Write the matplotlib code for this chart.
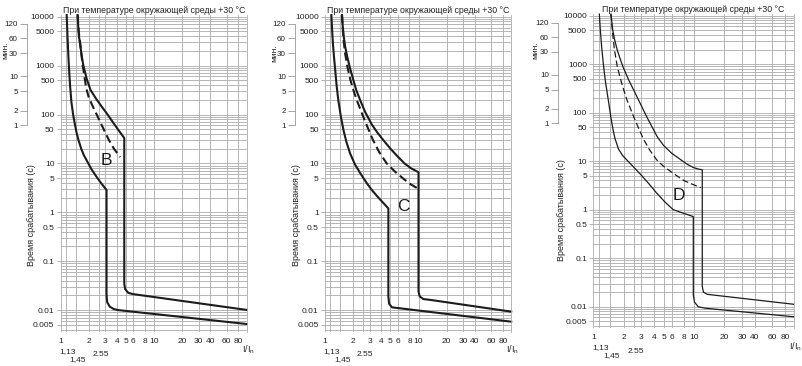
import matplotlib
matplotlib.use("Agg")
import matplotlib.pyplot as plt
from matplotlib.ticker import FixedLocator, NullFormatter, LogLocator

plt.rcParams["font.family"] = ["Liberation Sans", "DejaVu Sans"]

W, H = 802, 366
XMAX = 98.5
YLIM = (0.0036, 10800)

title = "При температуре окружающей среды +30 °C"
ylabel = "Время срабатывания (с)"
min_label = "мин."

x_grid = [1, 1.13, 1.45, 2, 2.55, 3, 4, 5, 6, 8, 10, 20, 30, 40, 60, 80]
x_labels = ["1", "", "", "2", "", "3", "4", "5", "6", "8", "10", "20", "30", "40", "60", "80"]
y_ticks = [0.005, 0.01, 0.1, 0.5, 1, 5, 10, 50, 100, 500, 1000, 5000, 10000]
y_labels = ["0.005", "0.01", "0.1", "0.5", "1", "5", "10", "50", "100", "500", "1000", "5000", "10000"]
min_ticks = [7200, 3600, 1800, 600, 300, 120, 60]
min_labels = ["120", "60", "30", "10", "5", "2", "1"]
extra_labels = [("1,13", 1.13, -14.2), ("1,45", 1.45, -19.7), ("2.55", 2.55, -16.5)]

# curve B
b_low_x = [1.159, 1.18, 1.208, 1.236, 1.259, 1.303, 1.358, 1.419, 1.479, 1.549, 1.66, 1.778,
           1.901, 2.138, 2.432, 2.754, 3.1, 3.1, 3.15, 3.35, 3.7, 4.14, 98]
b_low_t = [10800, 4467, 1585, 708, 398, 178, 100, 63.1, 42.7, 30.2, 19.95, 14.45,
           11.48, 7.59, 5.25, 3.8, 2.86, 0.021, 0.0145, 0.0118, 0.0105, 0.0100, 0.0052]
b_up_x = [1.52, 1.535, 1.567, 1.61, 1.68, 1.75, 1.905, 2.09, 2.4, 2.75, 3.11, 3.98, 4.8,
          4.8, 4.9, 5.3, 6.0, 98]
b_up_t = [10800, 7000, 4000, 2860, 1580, 1000, 525, 316, 209, 145, 106, 54, 33,
          0.035, 0.027, 0.0225, 0.0212, 0.0101]
b_dash_x = [1.52, 1.56, 1.63, 1.72, 1.79, 1.87, 2.0, 2.19, 2.43, 2.82, 3.24, 3.72, 4.33]
b_dash_t = [10800, 5000, 2500, 1000, 631, 355, 224, 151, 100, 55, 31.6, 20, 13.5]

# curve C
c_low_x = [1.17, 1.19, 1.216, 1.245, 1.28, 1.33, 1.387, 1.48, 1.585, 1.7, 1.86, 2.09, 2.4,
           2.79, 3.16, 3.57, 4.17, 4.76, 4.76, 4.85, 5.2, 6.3, 98]
c_low_t = [10800, 5620, 2820, 1585, 891, 398, 198, 89, 45.7, 26.9, 15.8, 9.55, 6.17,
           3.98, 2.88, 2.19, 1.58, 1.2, 0.019, 0.0135, 0.0114, 0.0109, 0.0058]
c_up_x = [1.52, 1.549, 1.585, 1.64, 1.72, 1.85, 2.0, 2.16, 2.37, 2.69, 3.16, 3.63, 4.2,
          5.01, 5.85, 7.08, 8.32, 10.0, 10.0, 10.3, 11.3, 13.3, 98]
c_up_t = [10800, 6310, 3980, 2510, 1585, 891, 525, 316, 200, 112, 63, 42.7, 30,
          20, 14.5, 10, 7.94, 6.6, 0.024, 0.019, 0.0168, 0.0162, 0.0093]
c_dash_x = [1.52, 1.549, 1.585, 1.64, 1.734, 1.862, 1.995, 2.18, 2.51, 2.88, 3.22, 3.8,
            4.57, 5.62, 6.87, 8.13, 9.77]
c_dash_t = [10800, 5620, 3160, 1780, 955, 525, 331, 200, 100, 52.5, 31.6, 17,
            10, 6.76, 4.9, 3.8, 3.09]

# curve D
d_low_x = [1.148, 1.175, 1.211, 1.259, 1.318, 1.409, 1.496, 1.567, 1.641, 1.778, 1.95,
           2.143, 2.512, 2.911, 3.548, 4.266, 5.129, 6.22, 9.84, 9.84, 10.1, 11.0, 12.9, 98]
d_low_t = [10800, 5012, 2239, 1000, 447, 182, 79.4, 45.7, 29.5, 17.8, 13.2,
           10.7, 7.59, 5.5, 3.47, 2.19, 1.45, 1.0, 0.72, 0.0174, 0.0125, 0.0100, 0.0093, 0.0062]
d_up_x = [1.5, 1.531, 1.56, 1.622, 1.73, 1.862, 1.986, 2.239, 2.57, 2.911, 3.311, 3.802,
          4.325, 5.012, 6.026, 7.261, 8.511, 9.84, 10.96, 12.08, 12.08, 12.4, 13.5, 15.5, 98]
d_up_t = [10800, 7080, 5070, 3310, 1950, 1230, 851, 479, 269, 158, 91.2, 52.5,
          31.6, 20.9, 14.5, 11.0, 8.71, 7.41, 6.92, 6.61, 0.026, 0.020, 0.0180, 0.0174, 0.0112]
d_dash_x = [1.5, 1.531, 1.57, 1.622, 1.73, 1.905, 2.143, 2.512, 2.818, 3.141, 3.631,
            4.256, 5.012, 6.223, 7.943, 10.0, 11.67]
d_dash_t = [10800, 6310, 3548, 1995, 891, 417, 191, 83.2, 47.9, 28.8, 17.0,
            10.7, 7.76, 5.62, 3.98, 3.24, 2.85]

panels = [
    dict(left=60.7, dec=93.3, top=15.07, bottom=331.8, spine=27, ylab_x=32, ylab_y=215,
         min_xy=(6, 50), letter="B", letter_xy=(3.06, 11.7), lw=1.5, dash=(0, (4, 2)),
         curves=[(b_low_x, b_low_t), (b_up_x, b_up_t)], dashed=(b_dash_x, b_dash_t)),
    dict(left=325, dec=93.5, top=15.07, bottom=331.8, spine=295, ylab_x=296.7, ylab_y=215,
         min_xy=(275, 53), letter="C", letter_xy=(6.9, 1.3), lw=1.5, dash=(0, (4, 2)),
         curves=[(c_low_x, c_low_t), (c_up_x, c_up_t)], dashed=(c_dash_x, c_dash_t)),
    dict(left=593.3, dec=100.7, top=14.08, bottom=328.2, spine=558, ylab_x=561.7, ylab_y=210,
         min_xy=(536, 50), letter="D", letter_xy=(7.0, 2.0), lw=0.9, dash=(0, (5, 2.5)),
         curves=[(d_low_x, d_low_t), (d_up_x, d_up_t)], dashed=(d_dash_x, d_dash_t)),
]

GRID = "#ababab"
INK = "#1c1c1c"
TXT = "#222222"

fig = plt.figure(figsize=(W / 100, H / 100), dpi=100)

for p in panels:
    right = p["left"] + p["dec"] * 1.99344
    rect = [p["left"] / W, 1 - p["bottom"] / H, (right - p["left"]) / W, (p["bottom"] - p["top"]) / H]
    ax = fig.add_axes(rect)
    ax.set_xscale("log")
    ax.set_yscale("log")
    ax.set_xlim(1, XMAX)
    ax.set_ylim(*YLIM)

    ax.xaxis.set_major_locator(FixedLocator(x_grid))
    ax.set_xticklabels(x_labels)
    ax.xaxis.set_minor_formatter(NullFormatter())
    ax.xaxis.set_minor_locator(FixedLocator([]))
    ax.tick_params(axis="x", which="both", length=0, pad=4.5, labelsize=6, labelcolor=TXT)

    ax.yaxis.set_major_locator(FixedLocator(y_ticks))
    ax.set_yticklabels(y_labels)
    ax.yaxis.set_minor_locator(LogLocator(base=10, subs=range(2, 10), numticks=20))
    ax.yaxis.set_minor_formatter(NullFormatter())
    ax.tick_params(axis="y", which="major", length=3, width=0.6, color=GRID, pad=1.5,
                   labelsize=6, labelcolor=TXT)
    ax.tick_params(axis="y", which="minor", length=0)

    ax.grid(True, which="major", axis="both", color=GRID, lw=0.6)
    ax.grid(True, which="minor", axis="y", color=GRID, lw=0.6)
    for side in ["top", "bottom", "left"]:
        ax.spines[side].set_visible(False)
    ax.spines["right"].set_color(GRID)
    ax.spines["right"].set_linewidth(0.6)

    for cx, ct in p["curves"]:
        ax.plot(cx, ct, color=INK, lw=p["lw"], solid_joinstyle="round", clip_on=False)
    ax.plot(p["dashed"][0], p["dashed"][1], color=INK, lw=p["lw"], linestyle=p["dash"])

    ax.text(p["letter_xy"][0], p["letter_xy"][1], p["letter"], fontsize=12.5,
            ha="center", va="center", color=INK)

    for txt, xv, dy in extra_labels:
        ax.annotate(txt, xy=(xv, 0), xycoords=("data", "axes fraction"), xytext=(1.5, dy),
                    textcoords="offset points", ha="center", va="center", fontsize=6, color=TXT)
    ax.annotate("I/I$_\\mathregular{n}$", xy=(1, 0), xycoords="axes fraction", xytext=(1, -13),
                textcoords="offset points", ha="center", va="center", fontsize=6.5, color=TXT)

    ax.set_title(title, fontsize=6.3, color=TXT, pad=1.2)

    # minutes scale
    mx = fig.add_axes([p["spine"] / W, rect[1], 0.001, rect[3]])
    mx.set_yscale("log")
    mx.set_ylim(*YLIM)
    mx.set_xticks([])
    mx.patch.set_visible(False)
    for side in ["top", "bottom", "right"]:
        mx.spines[side].set_visible(False)
    mx.spines["left"].set_bounds(60, 7200)
    mx.spines["left"].set_color("#999999")
    mx.spines["left"].set_linewidth(0.6)
    mx.yaxis.set_major_locator(FixedLocator(min_ticks))
    mx.set_yticklabels(min_labels)
    mx.yaxis.set_minor_locator(FixedLocator([]))
    mx.tick_params(axis="y", length=5, width=0.6, color="#999999", pad=1.5,
                   labelsize=5.8, labelcolor=TXT)

    fig.text(p["min_xy"][0] / W, 1 - p["min_xy"][1] / H, min_label, rotation=90,
             ha="center", va="center", fontsize=6, color=TXT)
    fig.text(p["ylab_x"] / W, 1 - p["ylab_y"] / H, ylabel, rotation=90,
             ha="center", va="center", fontsize=6.5, color=TXT)

fig.savefig("out.png", dpi=100, facecolor="white")
